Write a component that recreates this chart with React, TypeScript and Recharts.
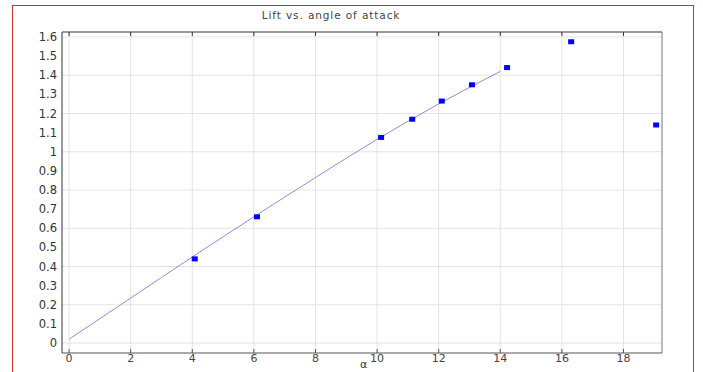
import { ComposedChart, Line, Scatter, XAxis, YAxis, CartesianGrid } from 'recharts'

// measured lift coefficient vs. angle of attack (deg)
const measuredAlpha = [4.08, 6.1, 10.13, 11.14, 12.1, 13.08, 14.22, 16.3, 19.06]
const measuredLift = [0.44, 0.66, 1.075, 1.17, 1.265, 1.35, 1.44, 1.575, 1.14]

// fitted curve over the linear range
const fitAlpha = [0, 2, 4, 6, 8, 10, 12, 14]
const fitLift = [0.02, 0.235, 0.45, 0.66, 0.865, 1.065, 1.25, 1.42]

const xTicks = [0, 2, 4, 6, 8, 10, 12, 14, 16, 18]
const yTicks = [0, 0.1, 0.2, 0.3, 0.4, 0.5, 0.6, 0.7, 0.8, 0.9, 1, 1.1, 1.2, 1.3, 1.4, 1.5, 1.6]

const measured = measuredAlpha.map((a, i) => ({ x: a, y: measuredLift[i] }))
const fit = fitAlpha.map((a, i) => ({ x: a, y: fitLift[i] }))

const font = 'DejaVu Sans, sans-serif'

const SquareDot = (props: any) => {
  const { cx, cy } = props
  if (cx == null || cy == null) return null
  return <rect x={cx - 3} y={cy - 2.5} width={6} height={5} fill="#0000ff" />
}

const fmt = (v: number) => String(Math.round(v * 10) / 10)

export default function App() {
  return (
    <div style={{ position: 'absolute', left: 0, top: 0, width: 703, height: 372, background: '#fff', overflow: 'hidden', fontFamily: font }}>
      <div style={{ position: 'absolute', left: 12, top: 5, width: 682, height: 400, border: '1px solid #cc3030', boxSizing: 'border-box' }} />
      <div style={{ position: 'absolute', left: 0, top: 9, width: 662, textAlign: 'center', fontSize: 10.5, color: '#444', letterSpacing: 0.9 }}>
        Lift vs. angle of attack
      </div>
      <div style={{ position: 'absolute', left: 360, top: 358, fontSize: 11, color: '#333' }}>α</div>
      <div style={{ position: 'absolute', left: 0, top: 0 }}>
        <ComposedChart width={703} height={372} margin={{ top: 32, right: 40, bottom: 0, left: 0 }}>
          <CartesianGrid xAxisId="b" yAxisId="l" stroke="#e3e3e3" horizontalValues={yTicks} verticalValues={xTicks} />
          <XAxis
            xAxisId="b"
            type="number"
            dataKey="x"
            domain={[-0.23, 19.25]}
            ticks={xTicks}
            allowDataOverflow
            height={19}
            stroke="#555"
            tickSize={-4}
            tickMargin={5}
            tick={{ fontSize: 11, fill: '#444', fontFamily: font }}
          />
          <XAxis
            xAxisId="t"
            orientation="top"
            type="number"
            dataKey="x"
            domain={[-0.23, 19.25]}
            ticks={xTicks}
            allowDataOverflow
            height={1}
            mirror
            stroke="#333"
            tickSize={4}
            tickFormatter={() => ''}
          />
          <YAxis
            yAxisId="l"
            type="number"
            domain={[-0.052, 1.626]}
            ticks={yTicks}
            allowDataOverflow
            width={62}
            stroke="#333"
            tickSize={0}
            tickMargin={5}
            tickFormatter={fmt}
            tick={{ fontSize: 11.5, fill: '#333', fontFamily: font }}
          />
          <YAxis
            yAxisId="r"
            orientation="right"
            type="number"
            domain={[-0.052, 1.626]}
            allowDataOverflow
            width={1}
            stroke="#777"
            tick={false}
            tickLine={false}
          />
          <Line
            xAxisId="b"
            yAxisId="l"
            data={fit}
            dataKey="y"
            type="monotone"
            stroke="#8c8ce0"
            strokeWidth={1}
            dot={false}
            activeDot={false}
            isAnimationActive={false}
          />
          <Scatter
            xAxisId="b"
            yAxisId="l"
            data={measured}
            dataKey="y"
            shape={<SquareDot />}
            isAnimationActive={false}
          />
        </ComposedChart>
      </div>
    </div>
  )
}
